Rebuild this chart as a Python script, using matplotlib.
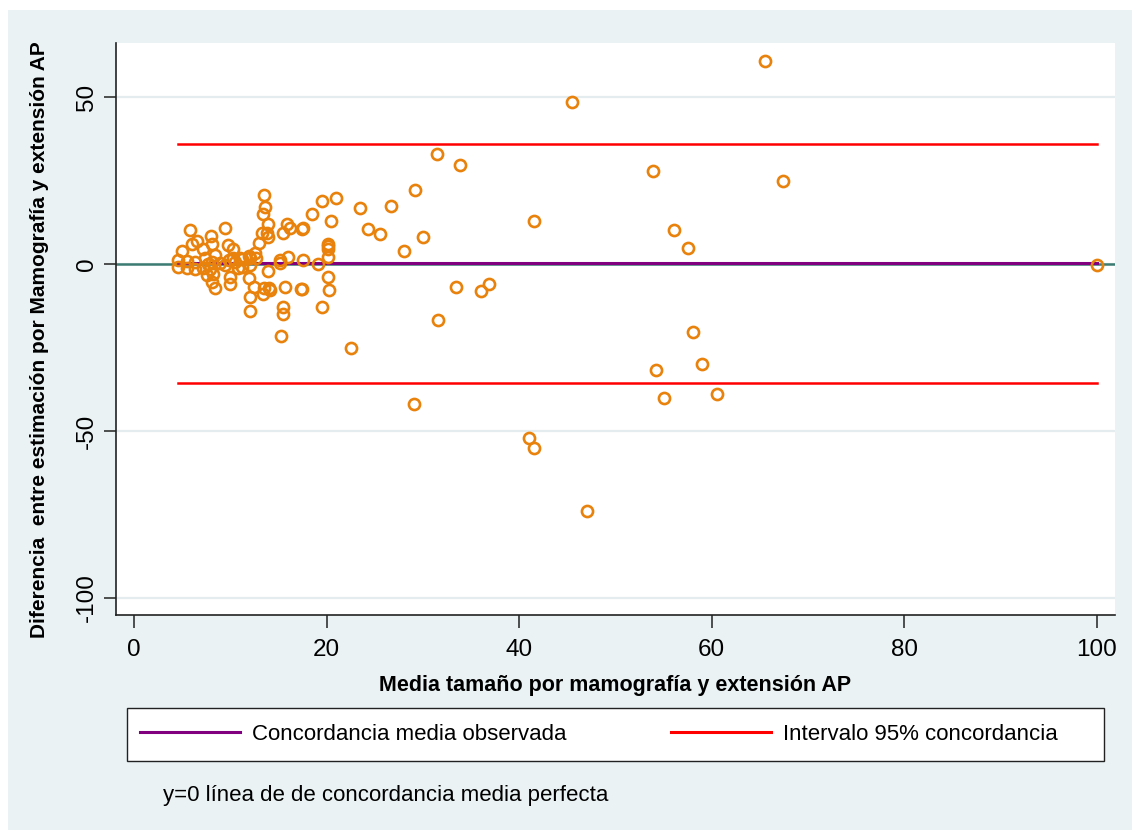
import matplotlib
matplotlib.use("Agg")
import matplotlib.pyplot as plt
from matplotlib import font_manager
from matplotlib.lines import Line2D
from matplotlib.patches import Rectangle


def pick_font(*names):
    for n in names:
        try:
            font_manager.findfont(n, fallback_to_default=False)
            return n
        except ValueError:
            pass
    return "DejaVu Sans"


FONT = pick_font("Liberation Sans Narrow", "Liberation Sans", "Arial")
plt.rcParams["font.family"] = [FONT, "DejaVu Sans"]
plt.rcParams["axes.unicode_minus"] = False

# media de las dos mediciones (x) y diferencia (y)
media = [
    65.5, 45.5, 31.5, 33.9, 53.9, 67.4, 29.2, 21.0, 19.5, 23.5, 26.7, 18.5,
    17.4, 17.6, 20.5, 24.3, 25.5, 30.0, 41.5, 56.1, 57.5, 20.1, 20.1, 20.1,
    28.0, 20.1, 17.6, 19.1, 100.0, 20.1, 20.2, 17.4, 33.4, 36.0, 36.9, 19.5,
    31.6, 22.5, 58.0, 59.0, 54.2, 55.0, 60.5, 29.1, 41.0, 41.5, 47.0,
    13.5, 13.6, 13.4, 13.9, 15.9, 15.5, 16.2, 13.3, 13.8, 13.9, 13.0, 12.6,
    16.0, 15.2, 11.9, 11.2, 12.0, 12.7, 10.8, 12.0, 15.2, 13.9, 11.9, 12.5,
    13.5, 14.0, 13.4, 14.1, 15.7, 17.3, 12.0, 12.0, 15.5, 15.5, 15.3,
    5.8, 9.4, 8.0, 6.5, 6.0, 8.1, 9.8, 10.3, 5.0, 7.2, 8.4, 4.6, 4.6, 5.5,
    5.5, 6.3, 6.3, 7.4, 7.7, 8.1, 7.9, 8.9, 9.4, 7.2, 9.9, 10.3, 10.5, 11.0,
    7.6, 8.2, 8.1, 8.4, 10.0, 10.0, 11.2,
]
diferencia = [
    60.8, 48.7, 32.9, 29.8, 27.8, 24.8, 22.3, 19.9, 18.8, 16.8, 17.4, 15.0,
    10.4, 10.9, 12.9, 10.5, 8.9, 8.1, 13.0, 10.1, 4.9, 6.1, 5.3, 4.6,
    4.0, 2.0, 1.1, 0.1, -0.2, -4.0, -7.7, -7.4, -6.8, -8.0, -6.1, -13.0,
    -16.7, -25.0, -20.2, -30.0, -31.7, -40.2, -39.0, -42.0, -52.0, -55.0, -74.0,
    20.8, 17.2, 14.9, 12.0, 11.9, 9.2, 10.7, 9.2, 9.4, 8.2, 6.2, 3.4,
    2.2, 1.2, 2.4, 1.5, 1.7, 1.9, -1.3, -0.3, 0.2, -2.1, -4.1, -7.0,
    -7.1, -7.1, -9.1, -7.8, -6.8, -7.5, -10.0, -14.0, -12.8, -15.1, -21.5,
    10.2, 10.8, 8.4, 6.9, 6.0, 6.0, 5.7, 4.5, 3.9, 4.5, 2.7, 1.2, -0.9, 0.9,
    -1.2, 0.6, -1.5, 1.8, 0.0, 0.6, -1.5, 0.3, -0.3, -1.2, 1.2, 1.8, 0.6, 1.8,
    -3.2, -3.0, -5.4, -7.2, -3.9, -6.0, -1.0,
]

media_dif = 0.2
limite_sup = 36.0
limite_inf = -35.6

x_ticks = [0, 20, 40, 60, 80, 100]
y_ticks = [50, 0, -50, -100]

W, H = 1132, 830
fig = plt.figure(figsize=(W / 100, H / 100), dpi=100, facecolor="white")
fig.patches.append(Rectangle((8 / W, 0), 1, 1 - 10 / H, transform=fig.transFigure,
                             facecolor="#eaf2f3", edgecolor="none", zorder=-10))

ax = fig.add_axes([116 / W, 1 - 615 / H, (1115 - 116) / W, (615 - 43) / H])
ax.set_facecolor("white")
ax.set_xlim(-1.87, 101.87)
ax.set_ylim(-105.2, 66.3)

for yt in y_ticks:
    ax.axhline(yt, color="#e4ecef", lw=1.6, zorder=0)

x0, x1 = min(media), max(media)
ax.axhline(0, color="#3b7b72", lw=1.8, zorder=1)
ax.plot([x0, x1], [media_dif, media_dif], color="#800080", lw=2.2, zorder=2)
ax.plot([x0, x1], [limite_sup, limite_sup], color="#ff0000", lw=1.8, zorder=2)
ax.plot([x0, x1], [limite_inf, limite_inf], color="#ff0000", lw=1.8, zorder=2)

ax.plot(media, diferencia, "o", ls="none", ms=8, mfc="none", mec="#e8820c",
        mew=1.9, zorder=3)

for s in ("top", "right"):
    ax.spines[s].set_visible(False)
for s in ("left", "bottom"):
    ax.spines[s].set_color("#222222")
    ax.spines[s].set_linewidth(1.2)

ax.set_xticks(x_ticks)
ax.set_yticks(y_ticks)
ax.tick_params(axis="both", length=9, width=1.1, color="#222222",
               labelsize=17.5, pad=8)
ax.tick_params(axis="y", labelrotation=90, pad=4)
for lab in ax.get_yticklabels():
    lab.set_va("center")

ax.set_xlabel("Media tamaño por mamografía y extensión AP", fontsize=15.5,
              fontweight="bold", labelpad=10)
fig.text(40 / W, 1 - 340 / H,
         "Diferencia  entre estimación por Mamografía y extensión AP",
         rotation=90, fontsize=15, fontweight="bold", ha="center", va="center")

# legend box drawn separately so the columns can sit where the reference has them
fig.patches.append(Rectangle((127 / W, 1 - 761 / H), (1104 - 127) / W, 53 / H,
                             transform=fig.transFigure, facecolor="white",
                             edgecolor="#222222", lw=1.0, zorder=1))
handles = [Line2D([], [], color="#800080", lw=2.2),
           Line2D([], [], color="#ff0000", lw=2.2)]
fig.legend(handles, ["Concordancia media observada", "Intervalo 95% concordancia"],
           ncol=2, loc="center left", bbox_to_anchor=(140 / W, 1 - 734.5 / H),
           borderaxespad=0, borderpad=0, fontsize=16, handlelength=4.5,
           handletextpad=0.55, columnspacing=4.7, frameon=False)

fig.text(163 / W, 1 - 795 / H, "y=0 línea de de concordancia media perfecta",
         fontsize=16, ha="left", va="center")

fig.savefig("out.png", dpi=100, facecolor=fig.get_facecolor())
